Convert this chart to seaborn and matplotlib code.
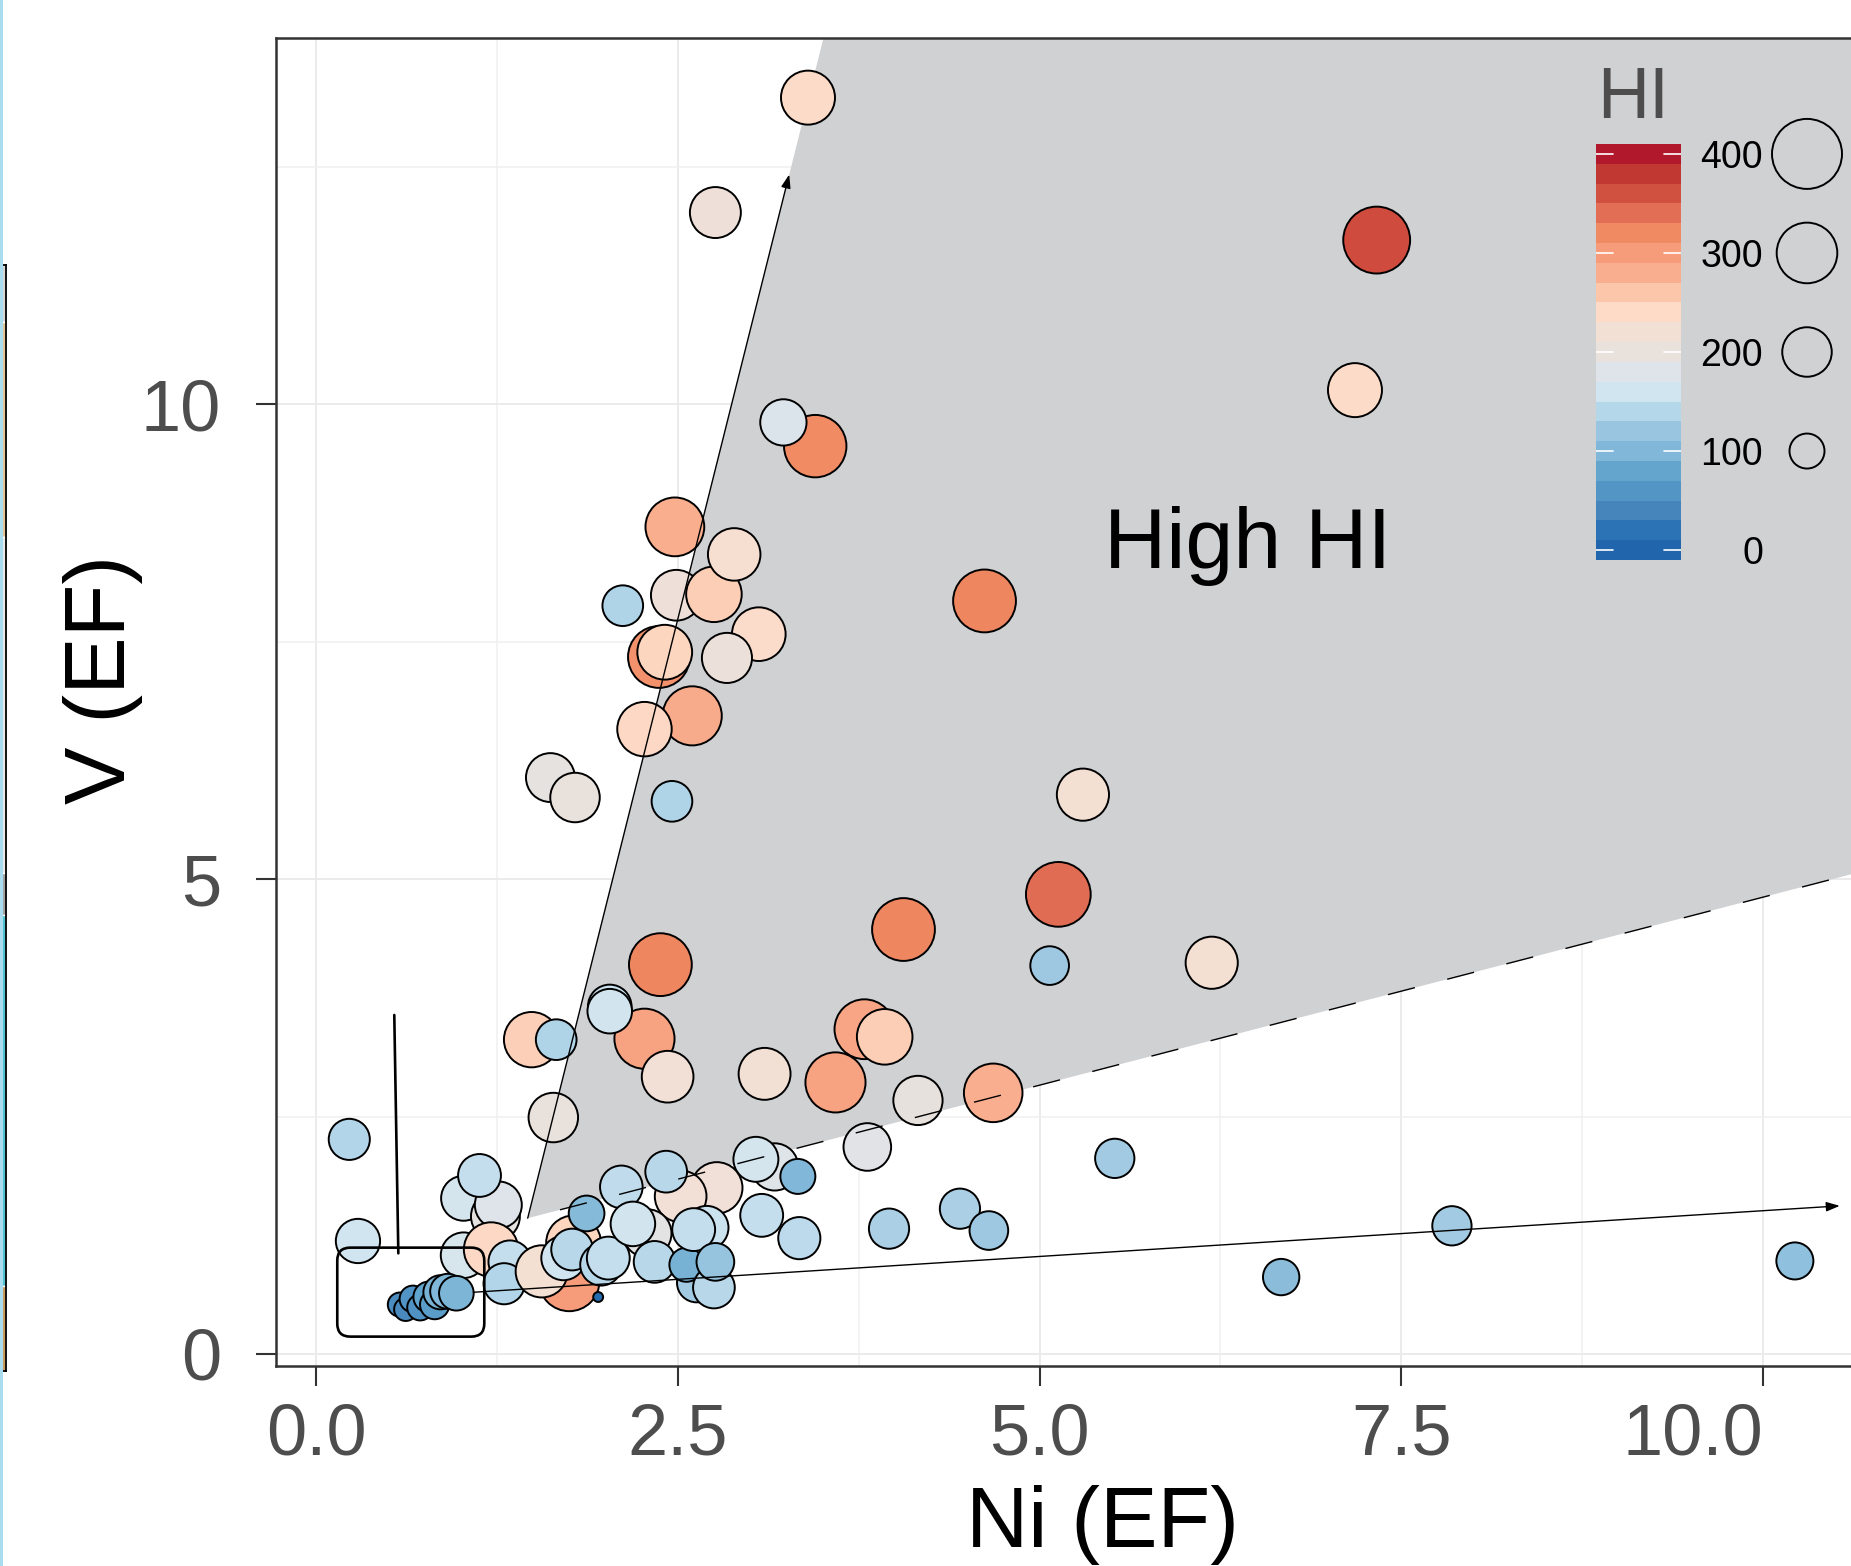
import numpy as np
import pandas as pd
import seaborn as sns
import matplotlib
matplotlib.use("Agg")
from matplotlib import pyplot as plt
from matplotlib.colors import LinearSegmentedColormap, Normalize
from matplotlib.patches import Polygon, FancyBboxPatch, Rectangle
from matplotlib.ticker import MultipleLocator

# samples: Ni enrichment, V enrichment, HI
ni_ef = [3.40, 2.76, 7.33, 7.18, 3.45, 3.23, 2.48, 2.49, 2.75, 2.89,
         2.12, 3.06, 2.84, 2.37, 2.41, 2.60, 2.27, 1.62, 1.79, 2.46,
         4.62, 5.30, 5.13, 4.06, 6.19, 5.07, 2.38, 1.49, 1.66, 2.27,
         2.03, 2.03, 2.43, 1.64, 3.79, 3.93, 3.10, 3.59, 4.16, 4.68,
         3.81, 3.17, 3.04, 3.33, 2.77, 3.08, 3.34, 3.96, 4.45, 4.65,
         5.52, 6.67, 7.85, 10.22,
         0.23, 0.29, 1.02, 1.24, 1.26, 1.13, 1.02, 1.21, 1.34, 1.30,
         1.75, 1.56, 1.78, 1.71, 1.77, 1.97, 2.02, 1.87, 2.52, 2.11,
         2.42, 2.29, 2.19, 2.63, 2.34, 2.56, 2.70, 2.61, 2.75, 2.76,
         0.58, 0.62, 0.67, 0.72, 0.78, 0.82, 0.86, 0.91, 0.97, 1.95]
v_ef = [13.23, 12.02, 11.73, 10.15, 9.56, 9.81, 8.71, 7.99, 8.00, 8.42,
        7.88, 7.58, 7.33, 7.34, 7.39, 6.72, 6.58, 6.07, 5.86, 5.82,
        7.93, 5.89, 4.84, 4.47, 4.12, 4.09, 4.10, 3.31, 3.31, 3.32,
        3.66, 3.61, 2.92, 2.49, 3.42, 3.34, 2.95, 2.86, 2.67, 2.75,
        2.18, 1.97, 2.05, 1.87, 1.75, 1.46, 1.22, 1.32, 1.53, 1.30,
        2.06, 0.81, 1.35, 0.98,
        2.26, 1.19, 1.64, 1.45, 1.57, 1.88, 1.04, 1.10, 0.97, 0.74,
        0.77, 0.87, 1.17, 1.01, 1.10, 0.94, 1.01, 1.48, 1.66, 1.76,
        1.92, 1.27, 1.37, 0.75, 0.97, 0.94, 1.33, 1.31, 0.70, 0.97,
        0.52, 0.47, 0.58, 0.49, 0.60, 0.52, 0.65, 0.66, 0.64, 0.60]
hi = [238, 212, 365, 238, 318, 175, 282, 210, 252, 225,
      135, 235, 205, 312, 245, 285, 242, 195, 200, 135,
      322, 222, 342, 322, 222, 122, 322, 250, 135, 295,
      155, 162, 218, 200, 292, 252, 220, 295, 198, 280,
      185, 182, 165, 100, 215, 150, 145, 132, 132, 122,
      126, 108, 126, 112,
      138, 160, 165, 195, 180, 150, 170, 242, 150, 138,
      300, 222, 245, 160, 142, 142, 150, 104, 218, 148,
      142, 190, 162, 125, 142, 95, 155, 150, 142, 116,
      48, 44, 58, 55, 78, 70, 95, 100, 98, 8]

# colour ramp, 0 -> 400 in steps of 20
hi_steps = list(range(0, 401, 20))
hi_colors = ['#2166ac', '#2c74b4', '#4686bc', '#5396c6', '#63a5cd', '#80b7d8',
             '#9bc6e0', '#b6d7ea', '#d1e5f0', '#dee4e9', '#e8e1dc', '#f3e0d5',
             '#fddbc7', '#fbc6ab', '#f9b090', '#f69d7c', '#f08a62', '#e27055',
             '#d25241', '#c23a34', '#b2182b']
legend_breaks = [0, 100, 200, 300, 400]
size_breaks = [100, 200, 300, 400]
x_breaks = [0, 2.5, 5, 7.5, 10]
y_breaks = [0, 5, 10]

# high HI zone: corner point and slopes of its two edges
zone_corner = (1.463, 1.43)
zone_upper_slope = 6.08
zone_lower_slope = 0.396

# arrows (start, end) and the box around the low cluster
arrow_starts = [(1.463, 1.43), (1.087, 0.65)]
arrow_ends = [(3.27, 12.42), (10.53, 1.56)]
pointer_x = [0.541, 0.569]
pointer_y = [3.57, 1.06]
box_x = (0.147, 1.163)
box_y = (0.183, 1.12)

# strip of the neighbouring panel at the left edge (top to bottom)
frag_colors = ['#d6d6d6', '#e3c597', '#e6eaeb', '#a4a4a4', '#4fc3cf', '#c99b5c']
frag_heights = [57, 215, 336, 42, 371, 85]

W, H = 1851, 1566
sns.set_theme(style="ticks")
plt.rcParams['font.family'] = ['Liberation Sans', 'DejaVu Sans']

fig = plt.figure(figsize=(W / 100, H / 100), dpi=100)
ax = fig.add_axes([276 / W, 1 - 1366 / H, (1928 - 276) / W, 1328 / H])

cmap = LinearSegmentedColormap.from_list(
    'hi', list(zip(np.array(hi_steps) / 400, hi_colors)))
df = pd.DataFrame({'Ni': ni_ef, 'V': v_ef, 'HI': hi})

# shaded high HI zone
x0, y0 = zone_corner
far = 30
zone = Polygon([(x0, y0), (x0 + (far - y0) / zone_upper_slope, far), (far, far),
                (far, y0 + zone_lower_slope * (far - x0))],
               closed=True, facecolor='#d0d1d3', edgecolor='none', zorder=1)
ax.add_patch(zone)

sns.scatterplot(data=df, x='Ni', y='V', hue='HI', size='HI', palette=cmap,
                hue_norm=(0, 400), sizes=(0, 2540), size_norm=(0, 400),
                edgecolor='black', linewidth=1.4, legend=False, ax=ax, zorder=3)

# dashed lower edge of the zone
ax.plot([x0, far], [y0, y0 + zone_lower_slope * (far - x0)], color='black',
        lw=1.0, linestyle=(20, (20, 24)), zorder=5)
for s, e in zip(arrow_starts, arrow_ends):
    ax.annotate('', xy=e, xytext=s, zorder=5,
                arrowprops=dict(arrowstyle='-|>,head_length=0.45,head_width=0.16',
                                color='black', lw=1.0, shrinkA=0, shrinkB=0,
                                mutation_scale=18))
ax.plot(pointer_x, pointer_y, color='black', lw=1.9, zorder=5)
ax.add_patch(FancyBboxPatch((box_x[0], box_y[0]), box_x[1] - box_x[0], box_y[1] - box_y[0],
                            boxstyle='round,pad=0,rounding_size=0.09', mutation_aspect=1.524,
                            fill=False, edgecolor='black', lw=1.9, zorder=5))
ax.text(6.44, 8.28, 'High HI', fontsize=62, ha='center', va='baseline',
        color='black', zorder=4)

ax.set_xlim(-0.2764, 11.14)
ax.set_ylim(-0.1264, 13.858)
ax.set_xticks(x_breaks, ['%.1f' % v for v in x_breaks])
ax.set_yticks(y_breaks, [str(v) for v in y_breaks])
ax.xaxis.set_minor_locator(MultipleLocator(1.25))
ax.yaxis.set_minor_locator(MultipleLocator(2.5))
ax.get_xticklabels()[-1].set_ha('right')
ax.grid(which='major', color='#ebebeb', lw=1.4)
ax.grid(which='minor', color='#f0f0f0', lw=1.1)
ax.set_axisbelow(True)
for sp in ax.spines.values():
    sp.set_visible(True)
    sp.set_color('#333333')
    sp.set_linewidth(1.8)
ax.tick_params(which='major', direction='out', length=14.5, width=1.5,
               color='#333333', labelsize=52, labelcolor='#4d4d4d',
               bottom=True, left=True)
ax.tick_params(axis='x', pad=12)
ax.tick_params(axis='y', pad=25)
ax.tick_params(which='minor', length=0)

ax.set_xlabel('Ni (EF)', fontsize=62, color='black')
ax.xaxis.label.set_va('baseline')
ax.xaxis.set_label_coords(0.5, (1366 - 1547) / 1328)
ax.set_ylabel('V (EF)', fontsize=62, color='black')
ax.yaxis.label.set(rotation_mode='anchor', ha='center', va='baseline')
ax.yaxis.set_label_coords((125 - 276) / 1652, (1366 - 679) / 1328)

# legend: stepped colour bar plus size circles
fig.text(1597 / W, 1 - 118.5 / H, 'HI', fontsize=52, color='#4d4d4d',
         ha='left', va='baseline')
cax = fig.add_axes([1596 / W, 1 - 560 / H, 85 / W, 416 / H])
sm = matplotlib.cm.ScalarMappable(norm=Normalize(0, 400), cmap=cmap)
cb = fig.colorbar(sm, cax=cax, boundaries=np.arange(-10, 411, 20),
                  values=np.arange(0, 401, 20), ticks=legend_breaks)
cb.outline.set_visible(False)
cax.tick_params(length=0, labelsize=27, labelcolor='black', pad=59)
for t in cax.get_yticklabels():
    t.set_ha('right')
for v in legend_breaks:
    cax.plot([0, 0.2], [v, v], color='white', lw=1.2, transform=cax.get_yaxis_transform())
    cax.plot([0.8, 1], [v, v], color='white', lw=1.2, transform=cax.get_yaxis_transform())

sax = fig.add_axes([1770 / W, 1 - 560 / H, 74 / W, 416 / H])
sax.scatter([0.5] * len(size_breaks), size_breaks,
            s=np.array(size_breaks) * 2540 / 400, facecolors='none',
            edgecolors='black', linewidths=1.4, clip_on=False)
sax.set_xlim(0, 1)
sax.set_ylim(-10, 410)
sax.axis('off')

# sliver of the neighbouring panel
fig.patches.append(Rectangle((0, 0), 3 / W, 1, transform=fig.transFigure,
                             facecolor='#a9dcef', edgecolor='none'))
frag = fig.add_axes([-3 / W, 1 - 1371 / H, 9 / W, sum(frag_heights) / H])
frag.bar([0] * len(frag_heights), frag_heights, bottom=np.cumsum([0] + frag_heights[:-1]),
         color=frag_colors, width=1.0)
frag.set_xlim(-0.5, 0.5)
frag.set_ylim(sum(frag_heights), 0)
frag.set_xticks([])
frag.set_yticks([])
for sp in frag.spines.values():
    sp.set_color('black')
    sp.set_linewidth(1.3)

fig.savefig('out.png', dpi=100)
